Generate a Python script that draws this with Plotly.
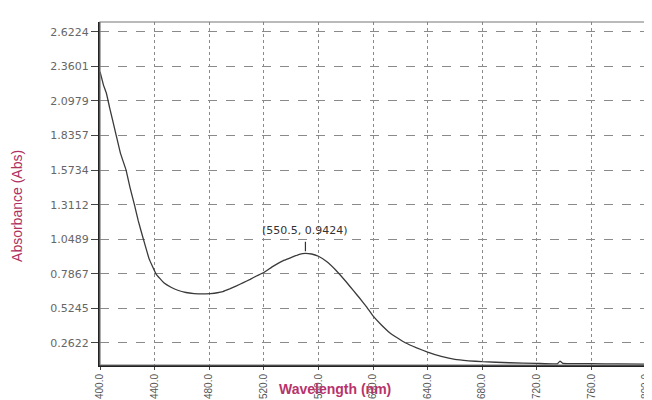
import plotly.graph_objects as go

# ---- data ----
wavelength = [400, 401, 402.5, 404.6, 407, 411.9, 415, 419.1, 422, 425.2, 428, 431.8, 436, 441, 444, 447,
              452, 457, 463, 469, 475, 481, 486, 490, 495, 500, 505, 510, 515, 520, 527, 535, 541, 546,
              550.5, 555, 560, 566, 573, 580, 586, 590, 595, 600, 606, 612, 618, 624, 632, 640, 650,
              660, 670, 680, 700, 720, 735, 737, 739, 745, 760, 780, 800]
absorbance = [2.32, 2.28, 2.22, 2.16, 2.05, 1.8357, 1.70, 1.5734, 1.44, 1.3112, 1.19, 1.0489, 0.90, 0.7867, 0.75, 0.717,
              0.685, 0.662, 0.645, 0.637, 0.634, 0.637, 0.643, 0.652, 0.672, 0.695, 0.72, 0.745, 0.772, 0.797, 0.845, 0.89, 0.915, 0.935,
              0.9424, 0.937, 0.92, 0.88, 0.812, 0.73, 0.655, 0.605, 0.54, 0.467, 0.40, 0.342, 0.30, 0.262, 0.225, 0.193, 0.16,
              0.137, 0.127, 0.12, 0.112, 0.107, 0.104, 0.125, 0.108, 0.106, 0.105, 0.103, 0.102]

x_ticks = [400, 440, 480, 520, 560, 600, 640, 680, 720, 760, 800]
x_tick_labels = ["400.0", "440.0", "480.0", "520.0", "560.0", "600.0", "640.0", "680.0", "720.0", "760.0", "800.0"]
y_ticks = [0.2622, 0.5245, 0.7867, 1.0489, 1.3112, 1.5734, 1.8357, 2.0979, 2.3601, 2.6224]
y_tick_labels = ["0.2622", "0.5245", "0.7867", "1.0489", "1.3112", "1.5734", "1.8357", "2.0979", "2.3601", "2.6224"]

peak_x = 550.5
peak_y = 0.9424
peak_label = "(550.5, 0.9424)"

x_title = "Wavelength (nm)"
y_title = "Absorbance (Abs)"

fig = go.Figure()
fig.add_trace(go.Scatter(
    x=wavelength, y=absorbance, mode="lines",
    line=dict(color="#3a3a3a", width=1.3, shape="spline", smoothing=0.25),
    hoverinfo="skip", showlegend=False,
))

fig.update_layout(
    width=652, height=400,
    margin=dict(l=92, r=9, t=14, b=38),
    paper_bgcolor="white", plot_bgcolor="white",
    xaxis=dict(
        range=[400, 800], tickmode="array", tickvals=x_ticks, ticktext=x_tick_labels,
        tickangle=-90, tickfont=dict(family="Liberation Sans, Arial, sans-serif", size=10, color="#555555"),
        showgrid=True, gridcolor="#8a8a8a", gridwidth=1, griddash="dot",
        showline=True, linecolor="#222222", linewidth=2,
        ticks="outside", ticklen=3, tickcolor="#444444",
        zeroline=False,
    ),
    yaxis=dict(
        range=[0.095, 2.697], tickmode="array", tickvals=y_ticks, ticktext=y_tick_labels,
        tickfont=dict(family="DejaVu Sans, sans-serif", size=11, color="#666666"),
        showgrid=True, gridcolor="#8a8a8a", gridwidth=1, griddash="dash",
        showline=True, linecolor="#222222", linewidth=2,
        ticks="outside", ticklen=7, tickcolor="#444444",
        zeroline=False,
    ),
    shapes=[dict(type="rect", xref="paper", yref="paper", x0=0, x1=1, y0=0, y1=1,
                 line=dict(color="#777777", width=1.2), layer="above")],
    annotations=[
        dict(x=peak_x, y=peak_y, xref="x", yref="y", text=peak_label, showarrow=False,
             yanchor="bottom", yshift=14, font=dict(family="DejaVu Sans, Arial", size=11, color="#333333")),
        dict(x=peak_x, y=peak_y, xref="x", yref="y", text="", showarrow=True,
             ax=0, ay=-13, arrowhead=0, arrowwidth=1.2, arrowcolor="#333333", standoff=2),
        dict(x=(329 - 92) / 551, y=-35 / 348, xref="paper", yref="paper", text="<b>" + x_title + "</b>",
             showarrow=False, xanchor="center", yanchor="bottom",
             font=dict(family="Liberation Sans, Arial", size=14, color="#b8336a")),
        dict(x=(8 - 92) / 551, y=0.463, xref="paper", yref="paper", text=y_title,
             showarrow=False, textangle=-90, xanchor="center", yanchor="middle",
             font=dict(family="Liberation Sans Narrow, Liberation Sans, Arial", size=14, color="#b03060")),
    ],
)

fig.write_html("out.html")
